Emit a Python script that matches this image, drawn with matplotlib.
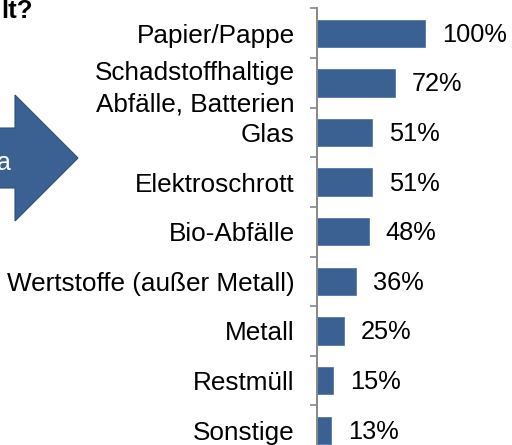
import matplotlib.pyplot as plt
from matplotlib.patches import Polygon
import numpy as np

categories = ['Papier/Pappe', 'Schadstoffhaltige\nAbfälle, Batterien', 'Glas',
              'Elektroschrott', 'Bio-Abfälle', 'Wertstoffe (außer Metall)',
              'Metall', 'Restmüll', 'Sonstige']
values = [100, 72, 51, 51, 48, 36, 25, 15, 13]
value_labels = ['100%', '72%', '51%', '51%', '48%', '36%', '25%', '15%', '13%']

BLUE = '#3B6092'
W, H = 512, 445

plt.rcParams['font.family'] = ['Liberation Sans', 'DejaVu Sans']

fig = plt.figure(figsize=(W / 100, H / 100), dpi=100)

# axes placed in pixel terms; bottom runs past the figure edge like the original crop
left, top, bottom = 317, 8.5, 455
ax = fig.add_axes([left / W, (H - bottom) / H, (W - left) / W, (bottom - top) / H])

y = np.arange(len(categories))
ax.barh(y, values, height=0.55, color=BLUE, edgecolor='#5878a6', linewidth=0.6)
ax.set_xlim(0, 100 * (W - left) / 108)
ax.set_ylim(len(categories) - 0.5, -0.5)

for yi, v, lab in zip(y, values, value_labels):
    ax.annotate(lab, (v, yi + 0.03), xytext=(12, 0), textcoords='offset points',
                va='center', ha='left', fontsize=18.3, color='black')

ax.set_yticks(y)
ax.set_yticklabels(categories, fontsize=18.8, linespacing=1.35)
ax.tick_params(axis='y', which='major', length=0, pad=16)
ax.set_yticks(np.arange(len(categories) + 1) - 0.5, minor=True)
ax.tick_params(axis='y', which='minor', length=5, width=1.2, color='#888888')
ax.set_xticks([])
for s in ['top', 'right', 'bottom']:
    ax.spines[s].set_visible(False)
ax.spines['left'].set_color('#888888')
ax.spines['left'].set_linewidth(1.4)

# partial arrow and title fragment on the left edge
pts = [(-10, 128), (15, 128), (15, 95), (78, 158), (15, 221), (15, 188), (-10, 188)]
arrow = Polygon([(px / W, 1 - py / H) for px, py in pts], closed=True,
                transform=fig.transFigure, facecolor=BLUE, edgecolor='#2f4f7a', linewidth=0.8)
fig.patches.append(arrow)
fig.text(11 / W, 1 - 170 / H, 'a', color='white', fontsize=18, ha='right', va='baseline')
fig.text(33 / W, 1 - 17.5 / H, 'lt?', color='black', fontsize=18.5, fontweight='bold',
         ha='right', va='baseline')

fig.savefig('out.png', dpi=100)
